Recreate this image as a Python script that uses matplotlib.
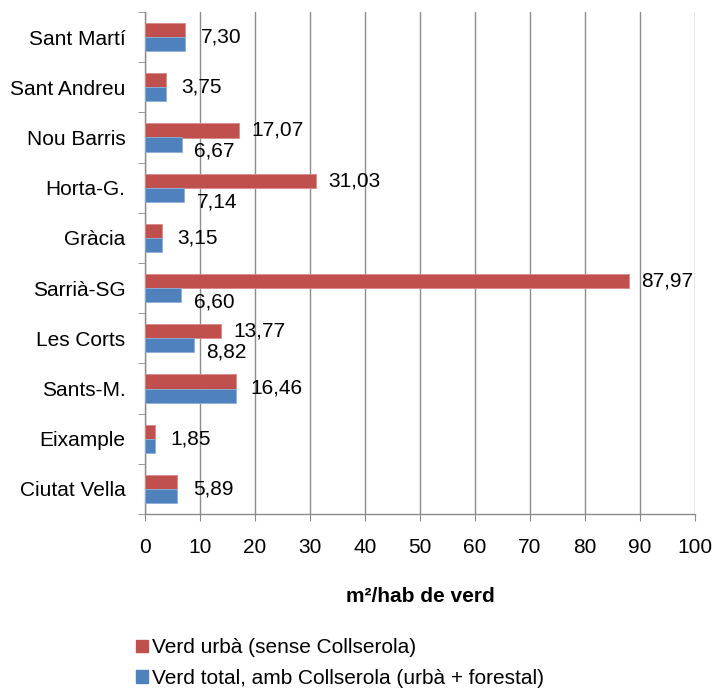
import numpy as np
import matplotlib
matplotlib.use("Agg")
import matplotlib.pyplot as plt
from matplotlib.patches import Patch

plt.rcParams['font.family'] = ['Liberation Sans', 'DejaVu Sans']

# -----------------------------
# Data (bottom to top as drawn)
# -----------------------------
districtes = ["Ciutat Vella", "Eixample", "Sants-M.", "Les Corts", "Sarrià-SG",
              "Gràcia", "Horta-G.", "Nou Barris", "Sant Andreu", "Sant Martí"]
verd_urba = [5.89, 1.85, 16.46, 13.77, 87.97, 3.15, 31.03, 17.07, 3.75, 7.30]
verd_total = [5.89, 1.85, 16.46, 8.82, 6.60, 3.15, 7.14, 6.67, 3.75, 7.30]

nom_urba = "Verd urbà (sense Collserola)"
nom_total = "Verd total, amb Collserola (urbà + forestal)"

RED = "#C0504D"
BLUE = "#4F81BD"
GRID = "#8C8C8C"
FS = 15

def fmt(v):
    return f"{v:.2f}".replace(".", ",")

fig = plt.figure(figsize=(7.16, 6.88), dpi=100)
ax = fig.add_axes([145 / 716, 1 - 514 / 688, (695 - 145) / 716, (514 - 12) / 688])

y = np.arange(len(districtes))
h = 0.28
ax.barh(y + h / 2, verd_urba, height=h, color=RED, edgecolor="#D88A88", linewidth=0.6, zorder=3)
ax.barh(y - h / 2, verd_total, height=h, color=BLUE, edgecolor="#8FAFD6", linewidth=0.6, zorder=3)

# data labels
for i in range(len(districtes)):
    u, t = verd_urba[i], verd_total[i]
    if abs(u - t) < 1e-9:
        ax.annotate(fmt(u), (u, y[i]), xytext=(11, 0), textcoords="offset points",
                    va="center", ha="left", fontsize=FS, zorder=4)
    else:
        ax.annotate(fmt(u), (u, y[i] + h / 2), xytext=(9, 0), textcoords="offset points",
                    va="center", ha="left", fontsize=FS, zorder=4)
        ax.annotate(fmt(t), (t, y[i] - h / 2), xytext=(9, -5), textcoords="offset points",
                    va="center", ha="left", fontsize=FS, zorder=4)

ax.set_xlim(0, 100)
ax.set_ylim(-0.5, len(districtes) - 0.5)
ax.set_xticks(np.arange(0, 101, 10))
ax.set_yticks(y)
ax.set_yticklabels(districtes, fontsize=FS)
ax.set_yticks(np.arange(-0.5, len(districtes), 1), minor=True)
ax.tick_params(axis="y", which="major", length=0, pad=14)
ax.tick_params(axis="y", which="minor", length=5, color=GRID, direction="out")
ax.tick_params(axis="x", length=5, color=GRID, labelsize=FS, pad=12)

ax.grid(axis="x", color=GRID, linewidth=1.0, zorder=0)
for s in ["top", "right"]:
    ax.spines[s].set_visible(False)
for s in ["left", "bottom"]:
    ax.spines[s].set_color(GRID)
    ax.spines[s].set_linewidth(1.0)

fig.text(420 / 716, 1 - 597 / 688, "m²/hab de verd", ha="center", va="center",
         fontsize=FS, fontweight="bold")

handles = [Patch(facecolor=RED, edgecolor=RED), Patch(facecolor=BLUE, edgecolor=BLUE)]
fig.legend(handles, [nom_urba, nom_total], loc="upper left",
           bbox_to_anchor=(128 / 716, 1 - 630 / 688), frameon=False, fontsize=FS,
           handlelength=0.55, handleheight=0.55, handletextpad=0.2, labelspacing=0.55,
           borderaxespad=0)

fig.savefig("out.png", dpi=100)
